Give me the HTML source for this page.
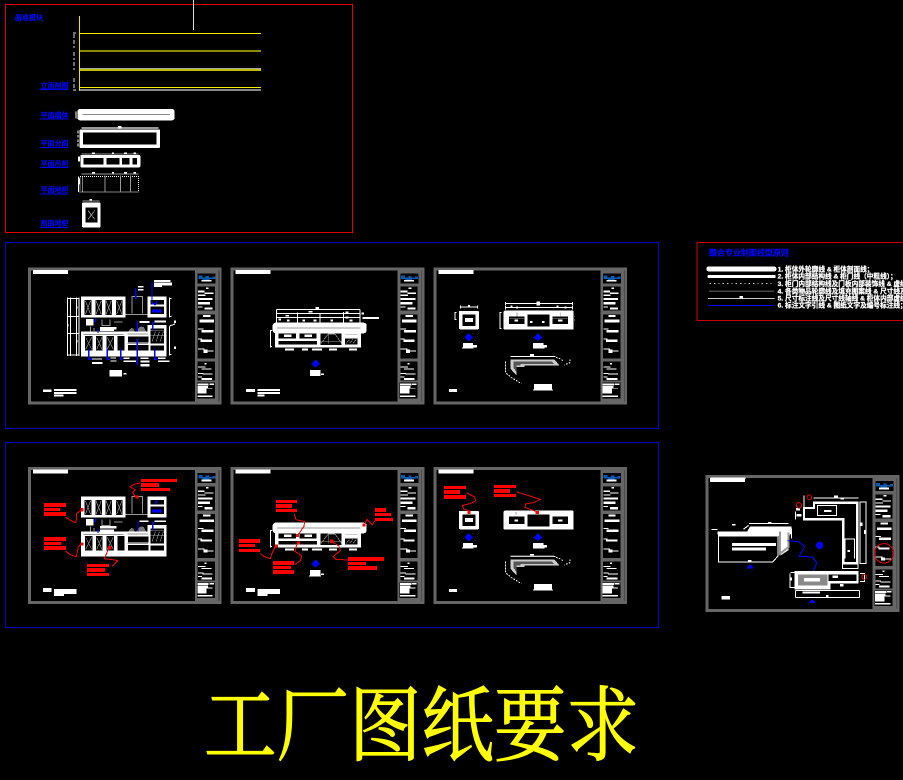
<!DOCTYPE html>
<html lang="zh"><head><meta charset="utf-8"><title>工厂图纸要求</title>
<style>
html,body{margin:0;padding:0;background:#000;width:903px;height:780px;overflow:hidden}
svg{display:block}
.w{fill:#fff}.k{fill:#000}.r{fill:#f00}.b{fill:#00f}.g{fill:#aaa}
.lw{stroke:#fff;fill:none;stroke-width:3}
.lg{stroke:#999;fill:none;stroke-width:3}
.lb{stroke:#00f;fill:none;stroke-width:4}
.lr{stroke:#e00;fill:none;stroke-width:3}
.t{font-family:"Liberation Sans","Noto Sans CJK SC",sans-serif}
</style></head><body>
<svg xmlns="http://www.w3.org/2000/svg" width="903" height="780" viewBox="0 0 903 780" shape-rendering="crispEdges">
<defs>
<g id="frame">
<rect width="581" height="411" fill="#666"/>
<rect x="9" y="9" width="492" height="393" fill="#000"/>
<rect x="572" y="9" width="2" height="393" fill="#333"/>
<rect x="15" y="8" width="105" height="12" fill="#fff"/>
<rect x="509" y="18" width="54" height="30" fill="#000"/>
<path d="M511 24h12v6h10v-4h10v4h10v-3h9v8h-18v3h-20v-3h-13z" fill="#0a5bb0"/>
<rect x="520" y="38" width="30" height="5" fill="#fff"/>
<rect x="509" y="58" width="52" height="72" fill="#000"/>
<rect x="509" y="141" width="52" height="132" fill="#000"/>
<rect x="509" y="283" width="52" height="57" fill="#000"/>
<rect x="507" y="346" width="54" height="47" fill="#000"/>
<g class="w">
<rect x="534" y="60" width="8" height="5"/><rect x="510" y="70" width="20" height="5"/><rect x="530" y="76" width="26" height="4"/>
<rect x="510" y="82" width="22" height="4"/><rect x="510" y="92" width="44" height="6"/><rect x="510" y="104" width="36" height="7"/>
<rect x="510" y="117" width="14" height="3"/><rect x="530" y="120" width="24" height="7"/>
<rect x="525" y="143" width="22" height="6"/><rect x="514" y="157" width="44" height="8"/>
<rect x="510" y="183" width="16" height="3"/><rect x="520" y="188" width="36" height="7"/>
<rect x="510" y="214" width="12" height="3"/><rect x="518" y="217" width="34" height="7"/>
<rect x="510" y="244" width="20" height="3"/><rect x="526" y="247" width="12" height="10"/><rect x="538" y="250" width="18" height="3"/>
<rect x="530" y="287" width="6" height="4"/><rect x="510" y="297" width="22" height="3"/><rect x="520" y="303" width="30" height="3"/>
<rect x="510" y="317" width="16" height="3"/><rect x="524" y="319" width="30" height="3"/><rect x="510" y="327" width="12" height="3"/><rect x="520" y="332" width="32" height="6"/>
<rect x="508" y="348" width="34" height="6"/><rect x="544" y="348" width="14" height="5"/><rect x="508" y="356" width="32" height="8"/><rect x="508" y="364" width="28" height="15"/><rect x="540" y="362" width="14" height="2"/><rect x="508" y="384" width="46" height="5"/>
</g>
</g>

<g id="drawA">
<rect class="w" x="183" y="110" width="134" height="62"/>
<g class="k"><rect x="194" y="120" width="20" height="45"/><rect x="226" y="120" width="20" height="45"/><rect x="256" y="120" width="20" height="45"/><rect x="288" y="120" width="20" height="45"/></g>
<path class="lg" style="stroke-width:2" d="M196 122l16 41M212 122l-16 41M228 122l16 41M244 122l-16 41M258 122l16 41M274 122l-16 41M290 122l16 41M306 122l-16 41"/>
<path class="lg" d="M336 160v-50h32v50M317 163h70"/>
<rect class="w" x="383" y="110" width="57" height="62"/>
<rect class="k" x="392" y="120" width="40" height="14"/><rect class="k" x="392" y="140" width="40" height="22"/>
<rect class="w" x="183" y="215" width="257" height="75"/>
<rect class="w" x="383" y="195" width="57" height="25"/>
<g class="k"><rect x="195" y="228" width="23" height="44"/><rect x="228" y="228" width="20" height="44"/><rect x="260" y="228" width="22" height="44"/><rect x="293" y="228" width="20" height="44"/><rect x="324" y="230" width="62" height="18"/><rect x="324" y="255" width="62" height="17"/><rect x="392" y="205" width="40" height="45"/><rect x="392" y="256" width="40" height="16"/></g>
<path class="lg" style="stroke-width:2" d="M197 232l18 36M215 232l-18 36M230 232l16 36M246 232l-16 36M262 232l18 36M280 232l-18 36M392 212h40M392 226h40M396 245l10-30M408 245l10-30M420 245l10-30"/>
<path class="lg" d="M190 224h120M322 222h62M322 250h62"/>
<path d="M326 214q6-14 14-8l4 8zM350 214q8-20 22-12l6 12z" fill="#777"/>
<path class="lg" d="M212 200v14M222 204v14M246 178v18h24v-18M282 186h26"/>
<rect class="w" x="198" y="177" width="22" height="20"/>
</g>

<g id="annoA1">
<path class="lw" d="M143 113v175M151 113v175M170 113v175M177 113v175M142 116h36M142 170h36M142 220h36M142 285h36M449 113v60M449 200v86M447 116h8M447 170h8M449 198l16-6M447 284h8"/>
<g class="w"><rect x="141" y="192" width="5" height="8"/><rect x="168" y="140" width="5" height="6"/><rect x="168" y="240" width="5" height="8"/><rect x="462" y="260" width="6" height="7"/><rect x="462" y="182" width="6" height="7"/></g>
<path class="lb" d="M396 66v65M396 131h10M412 124l-8 12M396 152h26M347 85v32M228 175l-2 9h-4M234 205v14M352 185v30M352 237v78M398 208v-20h6M206 268v30h10M262 268v30h8M302 268v30h6M404 268v30h8"/>
<rect class="b" x="396" y="148" width="28" height="10"/>
<g class="w"><rect x="402" y="60" width="50" height="6"/><rect x="402" y="68" width="54" height="8"/><rect x="402" y="76" width="24" height="5"/><rect x="354" y="78" width="16" height="5"/><rect x="354" y="87" width="16" height="5"/><rect x="240" y="201" width="50" height="7"/><rect x="240" y="209" width="42" height="4"/><rect x="358" y="183" width="30" height="6"/><rect x="404" y="181" width="34" height="6"/><rect x="216" y="295" width="30" height="4"/><rect x="216" y="306" width="32" height="6"/><rect x="272" y="292" width="16" height="4"/><rect x="272" y="301" width="18" height="4"/><rect x="310" y="292" width="18" height="5"/><rect x="310" y="301" width="38" height="5"/><rect x="362" y="292" width="24" height="5"/><rect x="362" y="301" width="26" height="6"/><rect x="362" y="312" width="26" height="8"/><rect x="414" y="292" width="22" height="5"/><rect x="414" y="301" width="34" height="5"/>
<rect x="268" y="330" width="38" height="20"/><rect x="310" y="339" width="10" height="5"/>
<rect x="69" y="388" width="26" height="8"/><rect x="102" y="387" width="68" height="6"/><rect x="102" y="396" width="68" height="6"/><rect x="102" y="404" width="28" height="6"/></g>
</g>

<g id="drawB">
<rect class="w" x="150" y="215" width="258" height="48"/>
<rect class="w" x="143" y="188" width="282" height="32" rx="9"/>
<path class="lg" d="M156 204h250"/>
<g class="k"><rect x="161" y="220" width="52" height="16"/><rect x="223" y="220" width="52" height="16"/><rect x="160" y="243" width="116" height="11"/><rect x="286" y="220" width="64" height="35"/><rect x="360" y="235" width="38" height="19"/></g>
<rect class="w" x="177" y="224" width="22" height="7"/><rect class="w" x="239" y="224" width="22" height="7"/>
<path class="lg" style="stroke-width:2" d="M288 250l22-28h20l20 28M310 222v28M287 244h62M364 250l10-12M374 250l10-12M384 250l10-12M360 224h38"/>
<g class="w"><rect x="180" y="266" width="27" height="6"/><rect x="231" y="266" width="18" height="6"/><rect x="261" y="266" width="30" height="6"/><rect x="312" y="266" width="24" height="6"/><rect x="372" y="266" width="24" height="6"/></g>
<path class="b" d="M272 299l13 12-13 12-13-12z"/>
<rect class="w" x="255" y="330" width="32" height="18"/><rect class="w" x="288" y="340" width="9" height="5"/>
<rect class="w" x="63" y="387" width="27" height="9"/>
<path class="lw" d="M137 212v50M135 212h6M135 260h6"/>
</g>

<g id="annoB">
<path class="lw" d="M155 148h250M155 160h250M155 172h250M155 148v40M217 158v30M285 160v28M355 156v32M405 148v40"/>
<g class="w"><rect x="272" y="141" width="10" height="7"/><rect x="250" y="153" width="12" height="5"/><rect x="182" y="165" width="10" height="5"/><rect x="362" y="155" width="8" height="6"/><rect x="362" y="170" width="8" height="6"/><rect x="410" y="157" width="7" height="6"/><rect x="412" y="171" width="50" height="6"/><rect x="160" y="176" width="8" height="6"/><rect x="186" y="178" width="8" height="6"/><rect x="232" y="178" width="8" height="6"/><rect x="266" y="178" width="8" height="6"/><rect x="316" y="178" width="8" height="6"/><rect x="374" y="178" width="8" height="6"/>
<rect x="97" y="387" width="68" height="6"/><rect x="97" y="396" width="68" height="6"/><rect x="97" y="404" width="22" height="6"/></g>
</g>

<g id="drawC">
<rect class="w" x="93" y="153" width="60" height="55" rx="3"/>
<rect class="k" x="103" y="163" width="40" height="35"/>
<rect class="w" x="111" y="174" width="24" height="12"/>
<rect class="w" x="227" y="152" width="210" height="57" rx="3"/>
<g class="k"><rect x="243" y="170" width="47" height="22"/><rect x="299" y="163" width="66" height="37"/><rect x="373" y="170" width="47" height="22"/></g>
<rect class="w" x="260" y="178" width="10" height="6"/><rect class="w" x="390" y="178" width="14" height="6"/>
<path class="b" d="M122 220l13 12-13 12-13-12z"/><path class="b" d="M330 220l13 12-13 12-13-12z"/>
<rect class="w" x="105" y="249" width="30" height="14"/><rect class="w" x="135" y="255" width="12" height="8"/><rect class="w" x="102" y="263" width="34" height="3"/>
<rect class="w" x="315" y="249" width="32" height="14"/><rect class="w" x="347" y="255" width="10" height="8"/><rect class="w" x="315" y="263" width="34" height="3"/>
<path class="lw" d="M247 290h135"/>
<path d="M248 299h132l14 17h-104v5h-24v26l-18-20z" fill="#ccc"/>
<path d="M256 305h116l6 7h-100v4h-12v20l-10-12z" fill="#555"/>
<path class="lw" style="stroke-dasharray:5 4" d="M232 305v30l4 6 14 12 14 8 16 10M384 292l14 5 6 5M426 298v10l-18 7"/>
<rect class="w" x="306" y="282" width="12" height="7"/>
<rect class="w" x="318" y="372" width="54" height="16"/><rect class="w" x="315" y="388" width="60" height="3"/>
<rect class="w" x="63" y="387" width="24" height="9"/>
</g>

<g id="annoC">
<path class="lw" d="M97 141h52M97 136v10M149 136v10M232 131h202M232 143h202M232 126v10M434 126v10M232 138v10M434 138v10M81 157v22M79 157h6M79 179h6M216 157v48M214 157h6M214 205h6"/>
<g class="w"><rect x="120" y="135" width="6" height="5"/><rect x="326" y="125" width="10" height="12"/><rect x="247" y="136" width="6" height="5"/><rect x="264" y="139" width="6" height="6"/><rect x="385" y="136" width="6" height="5"/><rect x="410" y="139" width="6" height="6"/></g>
<path class="lg" style="stroke-width:2" d="M244 175h44M374 175h44M267 158v12M397 158v12M225 170h3M225 180h3M225 190h3M438 170h3M438 180h3"/>
<g class="w"><rect x="306" y="183" width="8" height="6"/><rect x="342" y="183" width="8" height="6"/></g>
</g>
</defs>

<rect width="903" height="780" fill="#000"/>

<!-- top-left panel -->
<rect x="5.500" y="4.500" width="347" height="228" fill="none" stroke="#e00000" stroke-width="1"/>
<rect x="193" y="0" width="1" height="30" fill="#ddd"/>
<text class="t" x="15" y="20" font-size="7" fill="#00f" stroke="#00f" stroke-width=".35">基准模块</text>
<rect x="79" y="16" width="1" height="75" fill="#e8e800"/>
<rect x="80" y="33" width="181" height="1" fill="#f0f000"/>
<rect x="80" y="50" width="181" height="2" fill="#8a8a00"/>
<rect x="80" y="68" width="181" height="1" fill="#aaa"/>
<rect x="80" y="69" width="181" height="2" fill="#c0c000"/>
<rect x="80" y="87" width="181" height="1" fill="#f0f000"/>
<rect x="80" y="89" width="181" height="2" fill="#888"/>
<path d="M74 34v14M74 52v8M74 62v8M74 78v12M73 33h3M73 90h3" stroke="#ddd" fill="none" stroke-width="1" stroke-dasharray="4 2"/>
<g transform="scale(.3333)">
<g fill="#00f" class="t" font-size="21" stroke="#00f" stroke-width="1">
<text x="122" y="264">立面剖图</text><text x="122" y="352">平面墙体</text><text x="122" y="437">平面台面</text><text x="122" y="498">平面吊柜</text><text x="122" y="576">平面地柜</text><text x="122" y="677">剖面地柜</text>
</g>
<path d="M120 269h84M120 357h84M120 442h84M120 503h84M120 582h84M120 682h84" stroke="#00f" stroke-width="3"/>
<rect class="w" x="232" y="327" width="292" height="34" rx="8"/>
<rect x="248" y="342" width="262" height="3" fill="#888"/>
<path class="lw" d="M228 334v22"/><path class="lg" d="M244 384h232" style="stroke-width:5"/>
<rect class="w" x="354" y="378" width="10" height="7"/><path class="lw" style="stroke-dasharray:8 5" d="M234 392v50"/>
<rect class="w" x="239" y="388" width="241" height="56" rx="3"/><rect class="k" x="249" y="397" width="221" height="37"/>
<rect class="w" x="241" y="465" width="180" height="37" rx="3"/>
<g class="k"><rect x="251" y="474" width="60" height="20"/><rect x="320" y="474" width="38" height="20"/><rect x="366" y="474" width="22" height="20"/><rect x="397" y="474" width="14" height="20"/></g>
<path class="lg" d="M244 462h172M244 522h172"/>
<g class="w"><rect x="276" y="457" width="9" height="5"/><rect x="336" y="457" width="6" height="5"/><rect x="372" y="457" width="9" height="5"/><rect x="400" y="457" width="8" height="5"/><rect x="276" y="516" width="9" height="5"/><rect x="336" y="516" width="6" height="5"/><rect x="372" y="516" width="9" height="5"/><rect x="400" y="516" width="8" height="5"/><rect x="234" y="470" width="6" height="14"/><rect x="234" y="535" width="6" height="18"/></g>
<path class="lw" style="stroke-dasharray:3 3" d="M240 529h175v47h-175zM248 529v47"/>
<path class="lg" d="M315 527v48M361 527v48M391 527v48"/>
<path class="lw" d="M235 530v46"/>
<rect class="w" x="246" y="608" width="56" height="74" rx="3"/>
<rect class="k" x="257" y="623" width="35" height="44"/>
<path d="M264 632l20 26M284 632l-20 26" stroke="#bbb" stroke-width="2"/>
<rect class="w" x="269" y="597" width="7" height="7"/><path class="lg" d="M248 603h50"/>
</g>

<!-- blue frames -->
<rect x="5.500" y="242.500" width="653" height="186" fill="none" stroke="#0000c0" stroke-width="1"/>
<rect x="5.500" y="442.500" width="653" height="185" fill="none" stroke="#0000c0" stroke-width="1"/>

<!-- legend -->
<rect x="697" y="242.500" width="210" height="78" fill="none" stroke="#d00000" stroke-width="1"/>
<g transform="translate(693 238) scale(.3333)">
<text class="t" x="48" y="53" font-size="24" fill="#00f" stroke="#00f" stroke-width="1.2">整合专业制图线型原则</text>
<rect class="w" x="40" y="86" width="210" height="14" rx="6"/>
<rect class="w" x="44" y="111" width="204" height="9" rx="3"/>
<path d="M50 136H245" stroke="#ccc" stroke-width="3" stroke-dasharray="4 9"/>
<rect x="48" y="157" width="195" height="5" fill="#444"/>
<rect x="45" y="180" width="200" height="3" fill="#ccc"/><rect class="w" x="140" y="174" width="10" height="8"/>
<rect x="45" y="201" width="198" height="3" fill="#00f"/>
<g class="t" fill="#fff" font-size="20" font-weight="700" stroke="#fff" stroke-width=".8">
<text x="254" y="100">1. 柜体外轮廓线 &amp; 柜体剖面线；</text>
<text x="254" y="122">2. 柜体内部结构线 &amp; 柜门线（中粗线）；</text>
<text x="254" y="144">3. 柜门内部结构线及门板内部装饰线 &amp; 虚线表示线；</text>
<text x="254" y="166">4. 各类物品轮廓线及填充图案线 &amp; 尺寸线及标注线；</text>
<text x="254" y="188">5. 尺寸标注线及尺寸线轴线 &amp; 柜体内部虚线；</text>
<text x="254" y="208">6. 标注文字引线 &amp; 图纸文字及编号标注线；</text>
</g>
</g>

<!-- Row 1 -->
<g transform="translate(20 260) scale(.3333)"><use href="#frame" x="24" y="22"/><use href="#drawA"/><use href="#annoA1"/></g>
<g transform="translate(225 260) scale(.3333)"><use href="#frame" x="17" y="22"/><use href="#drawB"/><use href="#annoB"/></g>
<g transform="translate(428 260) scale(.3333)"><use href="#frame" x="16" y="22"/><use href="#drawC"/><use href="#annoC"/></g>

<!-- Row 2 -->
<g transform="translate(20 460) scale(.3333)"><use href="#frame" x="24" y="21"/><use href="#drawA"/>
<g class="w"><rect x="69" y="384" width="26" height="12"/><rect x="102" y="387" width="68" height="15"/><rect x="102" y="402" width="30" height="6"/><rect x="358" y="181" width="28" height="5"/><rect x="404" y="181" width="34" height="5"/><rect x="240" y="198" width="50" height="7"/><rect x="240" y="208" width="42" height="6"/></g>
<path class="lb" d="M228 175l-2 9h-4M234 205v14M354 185v30M398 208v-20h6M412 122l-6 8"/>
<rect class="b" x="396" y="148" width="28" height="9"/>
<g class="r"><rect x="72" y="129" width="66" height="12"/><rect x="72" y="144" width="48" height="9"/><rect x="72" y="156" width="66" height="12"/><rect x="72" y="231" width="66" height="12"/><rect x="72" y="246" width="52" height="9"/><rect x="72" y="258" width="66" height="12"/><rect x="363" y="57" width="108" height="9"/><rect x="363" y="69" width="54" height="12"/><rect x="363" y="84" width="87" height="9"/><rect x="201" y="312" width="66" height="9"/><rect x="201" y="324" width="54" height="12"/><rect x="201" y="339" width="66" height="9"/>
<rect x="181" y="144" width="10" height="10"/><rect x="181" y="247" width="10" height="10"/><rect x="264" y="258" width="10" height="10"/><rect x="347" y="106" width="9" height="9"/></g>
<path class="lr" d="M137 172l16 10 14 6 3-14v-14l14-10M137 274l14 10 18 6 3-14 3-16 10-8M360 69l-18 4-12 8 16 8-8 8 8 14M267 260l-6 18-8 18 24 3 16 3-16 16"/>
</g>

<g transform="translate(225 460) scale(.3333)"><use href="#frame" x="17" y="21"/><use href="#drawB"/>
<g class="w"><rect x="63" y="384" width="27" height="12"/><rect x="97" y="387" width="68" height="15"/><rect x="97" y="402" width="30" height="6"/><rect x="252" y="346" width="36" height="3"/></g>
<g class="r"><rect x="153" y="120" width="63" height="9"/><rect x="153" y="132" width="48" height="12"/><rect x="153" y="147" width="63" height="9"/><rect x="42" y="237" width="63" height="12"/><rect x="42" y="252" width="48" height="9"/><rect x="42" y="267" width="63" height="9"/><rect x="144" y="303" width="63" height="12"/><rect x="144" y="318" width="54" height="9"/><rect x="144" y="330" width="63" height="12"/><rect x="369" y="291" width="108" height="12"/><rect x="369" y="306" width="54" height="9"/><rect x="369" y="318" width="87" height="12"/><rect x="450" y="144" width="33" height="12"/><rect x="450" y="159" width="48" height="9"/><rect x="450" y="174" width="54" height="9"/>
<rect x="150" y="254" width="9" height="9"/><rect x="213" y="222" width="9" height="9"/><rect x="216" y="245" width="9" height="9"/><rect x="315" y="239" width="10" height="10"/><rect x="413" y="190" width="9" height="9"/></g>
<path class="lr" d="M208 163l5 16 26 6-2 14-18 26M106 280l12 10 18 6 4-14 12-24M216 252l-6 22 20 14-4 14-16 12M320 244l22 14 4 14-22 18 8 8 36 2M450 182l-8 12-16-16-6 12"/>
</g>

<g transform="translate(428 460) scale(.3333)"><use href="#frame" x="16" y="21"/><use href="#drawC"/>
<g class="r"><rect x="48" y="78" width="66" height="9"/><rect x="48" y="90" width="48" height="12"/><rect x="48" y="105" width="66" height="12"/><rect x="198" y="75" width="66" height="9"/><rect x="198" y="87" width="48" height="12"/><rect x="198" y="102" width="66" height="9"/><rect x="118" y="151" width="10" height="11"/><rect x="323" y="153" width="10" height="9"/></g>
<path class="lr" d="M116 99l24 12 3 12-18 8-22 6 4 10 16 6M267 96l70 22-20 10-24 4-2 10 32 12"/>
<path class="lg" d="M248 288h130M264 156v8" style="stroke-width:4"/>
</g>

<!-- Right sheet D -->
<g transform="translate(700 470) scale(.3333)"><use href="#frame" x="17" y="15"/>
<rect class="k" x="27" y="27" width="490" height="388"/>
<rect class="w" x="30" y="24" width="105" height="12"/>
<!-- L plan -->
<path d="M312 148H430V280H472V98H342V114H312z" fill="none" stroke="#fff" stroke-width="7"/>
<path class="lw" d="M340 84h136M480 96v184h18V96zM428 282h46v14h-46zM286 124v24M312 76v36"/>
<rect x="352" y="106" width="58" height="30" fill="none" stroke="#fff" stroke-width="3"/>
<rect class="w" x="372" y="120" width="22" height="6"/><rect class="w" x="402" y="76" width="12" height="6"/><rect class="w" x="422" y="84" width="10" height="5"/><rect class="w" x="482" y="158" width="6" height="10"/><rect class="w" x="492" y="180" width="8" height="12"/><rect class="w" x="442" y="240" width="8" height="6"/><rect class="w" x="288" y="114" width="12" height="8"/><rect class="w" x="290" y="132" width="14" height="8"/>
<rect fill="#fff" x="434" y="205" width="30" height="3"/><rect fill="#fff" x="434" y="205" width="3" height="60"/><rect fill="#fff" x="462" y="205" width="3" height="60"/>
<!-- iso -->
<path d="M52 184h90l8-14h124v20l-8 10v40l-24 16v-58H54z" fill="#fff"/>
<path d="M56 198h178v60l-16 18H56z" fill="none" stroke="#fff" stroke-width="3"/>
<path d="M147 160h118M130 178l16-12M34 178h18M275 176v30" class="lw"/>
<rect class="w" x="96" y="219" width="132" height="9"/><rect class="w" x="96" y="232" width="102" height="9"/>
<rect class="w" x="96" y="162" width="10" height="5"/><rect class="w" x="204" y="156" width="10" height="6"/><rect class="w" x="144" y="270" width="10" height="7"/>
<path class="lg" d="M240 185v66l26-20v-44" style="stroke-width:6"/>
<path d="M262 212l34 3 18 14-16 30 40 2 12 18-14 34" fill="none" stroke="#00f" stroke-width="3"/>
<circle cx="359" cy="226" r="11" class="b"/>
<path class="b" d="M140 295q10-20 20 0z"/><path class="b" d="M327 399q10-20 20 0z"/>
<!-- bottom plan -->
<rect class="w" x="284" y="303" width="192" height="56"/>
<rect x="294" y="313" width="88" height="34" fill="#8a8a8a"/><rect class="k" x="386" y="313" width="84" height="20"/>
<rect class="k" x="392" y="340" width="86" height="20"/>
<rect class="w" x="312" y="324" width="48" height="10"/>
<rect class="w" x="398" y="316" width="16" height="8"/><rect class="w" x="420" y="342" width="10" height="8"/>
<path class="lw" d="M286 362h192M286 382h192M286 362v20M478 362v20M270 310v44M288 308h-16M288 352h-16M480 310h14v24h-14"/>
<rect class="w" x="308" y="364" width="52" height="7"/><rect class="w" x="378" y="375" width="8" height="6"/><rect class="w" x="268" y="322" width="8" height="10"/>
<rect class="w" x="64" y="378" width="26" height="11"/>
<g fill="none" stroke="#d00" stroke-width="3"><circle cx="297" cy="106" r="8"/><circle cx="328" cy="82" r="7"/><circle cx="493" cy="321" r="7"/><circle cx="552" cy="250" r="29"/></g>
</g>

<!-- title -->
<text transform="translate(204 754) scale(1 1.13)" font-family="'Liberation Serif','Noto Serif CJK SC',serif" font-size="72.500" font-weight="400" fill="#ffff00" stroke="#ffff00" stroke-width="1">工厂图纸要求</text>
</svg>
</body></html>
